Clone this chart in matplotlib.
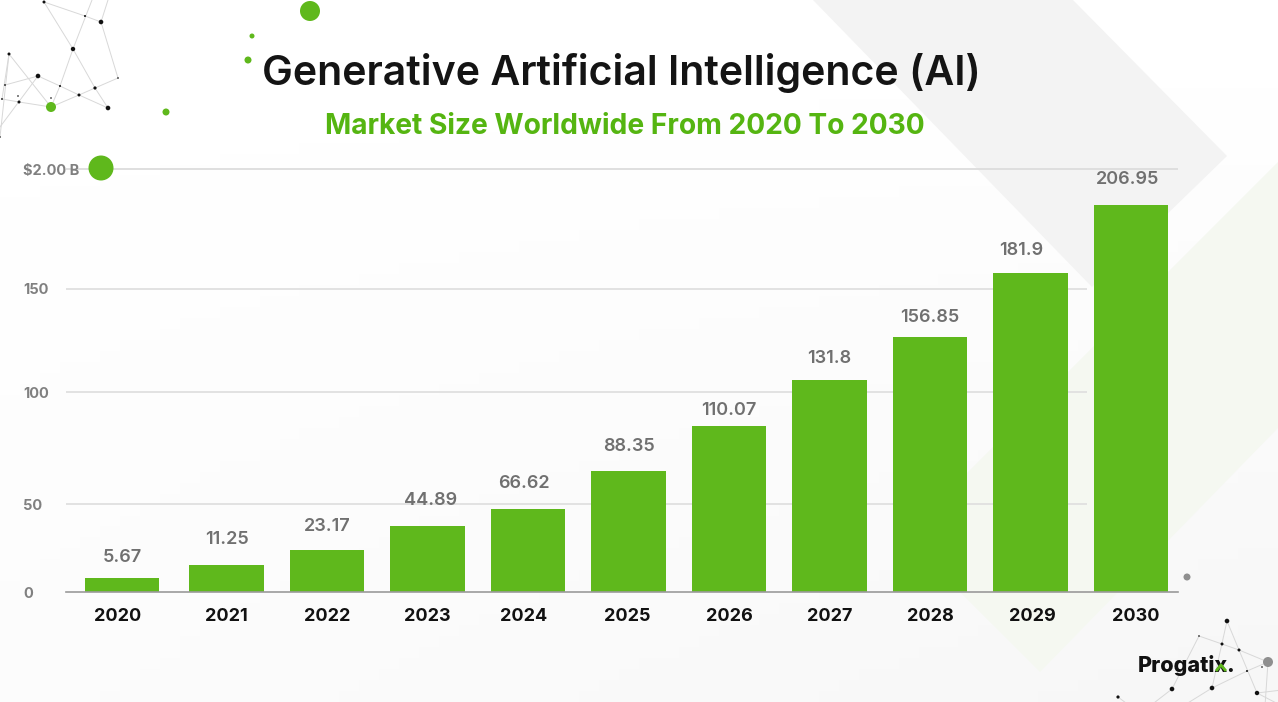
import numpy as np
import matplotlib
matplotlib.use('Agg')
import matplotlib.pyplot as plt
from matplotlib.patches import Polygon, Circle

plt.rcParams['font.family'] = ['Inter', 'DejaVu Sans']

years = ['2020', '2021', '2022', '2023', '2024', '2025', '2026', '2027', '2028', '2029', '2030']
value_labels = ['5.67', '11.25', '23.17', '44.89', '66.62', '88.35', '110.07', '131.8', '156.85', '181.9', '206.95']
# drawn bar heights, the picture does not scale them with the labels
bar_heights = [14, 27, 42, 66, 83, 121, 166, 212, 255, 319, 387]
y_tick_labels = ['0', '50', '100', '150', '$2.00 B']
y_tick_heights = [0, 88, 200, 303, 423]

# the labels are placed by hand in the picture, pixel nudges per bar
label_dx = [0, 0, 0, 3, -4, 0, 0, 0, 0, -9, -3]
label_dy = [-4, 1, -1, 1, 1, 0, -9, -3, -5, -2, 1]
year_dx = [-4, 0, 0, 0, -4, -1, 0, 0, 0, 2, 5]

GREEN = '#5fb81c'
W, H = 1278, 702

fig = plt.figure(figsize=(W / 100, H / 100), dpi=100)

# background layer in pixel coords
bg = fig.add_axes([0, 0, 1, 1])
bg.set_xlim(0, W)
bg.set_ylim(H, 0)
bg.axis('off')
grad = np.linspace(0, 1, 64)[:, None] * np.linspace(0.4, 1, 64)[None, :]
bg.imshow(1 - 0.035 * grad, cmap='gray', vmin=0, vmax=1, extent=[0, W, H, 0], aspect='auto', zorder=0)
bg.add_patch(Polygon([(813, 0), (1073, 0), (1227, 156), (1092, 287)], fc='#f3f3f3', ec='none', zorder=1))
bg.add_patch(Polygon([(1278, 162), (1278, 428), (1040, 672), (904, 536)], fc='#f5f8f1', ec='none', zorder=1))

# network decoration, top left and bottom right (x, y, radius)
net_top = [(44, 2, 1.5), (85, 16, 1), (101, 22, 2.3), (73, 49, 2.2), (118, 78, 0.8), (95, 88, 1.6), (60, 86, 1),
           (79, 95, 1.5), (108, 108, 2.3), (38, 76, 2.3), (9, 54, 1.5), (5, 85, 0.9), (2, 99, 0.9), (19, 102, 1.5),
           (51, 107, 0), (0, 137, 0.8), (51, 98, 0.8), (18, 96, 0.8), (92, 0, 0), (108, 0, 0), (0, 127, 0)]
net_top_links = [(0, 1), (1, 2), (0, 3), (3, 18), (2, 19), (2, 4), (4, 5), (5, 7), (7, 14), (3, 6), (6, 14), (3, 5),
                 (5, 8), (9, 6), (6, 7), (7, 8), (9, 11), (10, 14), (10, 15), (9, 20), (13, 14), (12, 13), (10, 12)]
net_bot = [(1227, 621, 2.3), (1199, 636, 0.8), (1222, 644, 1.5), (1239, 650, 1.5), (1268, 662, 0), (1262, 667, 0.8),
           (1247, 671, 1), (1257, 693, 2.2), (1212, 688, 2.3), (1172, 689, 2.3), (1118, 697, 1.6), (1183, 706, 0),
           (1150, 706, 0), (1130, 706, 0), (1265, 706, 0), (1282, 690, 0), (1282, 706, 0)]
net_bot_links = [(0, 3), (3, 7), (0, 8), (1, 2), (2, 3), (3, 4), (1, 9), (4, 6), (6, 8), (8, 11), (9, 12), (10, 13),
                 (4, 14), (7, 15), (7, 16)]
for pts, links in [(net_top, net_top_links), (net_bot, net_bot_links)]:
    for a, b in links:
        bg.plot([pts[a][0], pts[b][0]], [pts[a][1], pts[b][1]], color='#d8d8d8', lw=0.7, zorder=2)
    for px, py, r in pts:
        if r > 0:
            bg.add_patch(Circle((px, py), r, fc='#111111', ec='none', zorder=3))

# green and grey dots
for cx, cy, r, col in [(310, 11, 10, GREEN), (252, 36, 2.5, GREEN), (248, 60, 3.5, GREEN), (166, 112, 3.5, GREEN),
                       (51, 107, 5, GREEN), (1187, 577, 3.5, '#8f8f8f'), (1268, 662, 5, '#8f8f8f')]:
    bg.add_patch(Circle((cx, cy), r, fc=col, ec='none', zorder=4))

# chart
ax = fig.add_axes([66 / W, 1 - 592 / H, (1178 - 66) / W, (592 - 169) / H])
ax.patch.set_alpha(0)
ax.set_xlim((66 - 122) / 100.5, (1178 - 122) / 100.5)
ax.set_ylim(0, 423)
x = np.arange(len(years)) + 0.0
x[1:] += 0.04
ax.hlines(y_tick_heights[1:4], ax.get_xlim()[0], 9.6, color='#e0e0e0', lw=1.3, zorder=1)
ax.hlines(y_tick_heights[4], ax.get_xlim()[0], ax.get_xlim()[1], color='#dcdcdc', lw=1.3, zorder=1, clip_on=False)
ax.bar(x, bar_heights, width=0.74, color=GREEN, zorder=2)
for i, lab in enumerate(value_labels):
    ax.annotate(lab, (x[i], bar_heights[i]),
                xytext=(label_dx[i] * 0.72, (16 + label_dy[i]) * 0.72), textcoords='offset points',
                ha='center', va='bottom', fontsize=13, fontweight='semibold', color='#707070')
for i, yr in enumerate(years):
    ax.annotate(yr, (x[i], 0), xytext=(year_dx[i] * 0.72, -11.5), textcoords='offset points',
                ha='center', va='top', fontsize=13, fontweight='bold', color='#111111')

for s in ['top', 'right', 'left']:
    ax.spines[s].set_visible(False)
ax.spines['bottom'].set_color('#9a9a9a')
ax.spines['bottom'].set_linewidth(1.2)
ax.set_xticks([])
ax.set_yticks(y_tick_heights)
ax.set_yticklabels(y_tick_labels, fontsize=10.5, fontweight='bold', color='#808080', ha='left')
ax.tick_params(axis='y', length=0, pad=31)

# circle over the top gridline start, logo on top of everything
top = fig.add_axes([0, 0, 1, 1], zorder=5)
top.set_xlim(0, W)
top.set_ylim(H, 0)
top.axis('off')
top.add_patch(Circle((101, 168), 12.5, fc=GREEN, ec='none'))

fig.text(621.5 / W, 1 - 73 / H, 'Generative Artificial Intelligence (AI)', ha='center', va='center',
         fontsize=29.6, fontweight='semibold', color='#141414')
fig.text(625 / W, 1 - 126 / H, 'Market Size Worldwide From 2020 To 2030', ha='center', va='center',
         fontsize=20.3, fontweight='bold', color='#55b511')
top.text(1138, 666, 'Progatix.', ha='left', va='center', fontsize=15.5, fontweight='heavy', color='#111111')
top.plot([1216, 1221, 1226], [671, 665, 671], color=GREEN, lw=2, zorder=5, solid_capstyle='butt')

fig.savefig('out.png', dpi=100)
